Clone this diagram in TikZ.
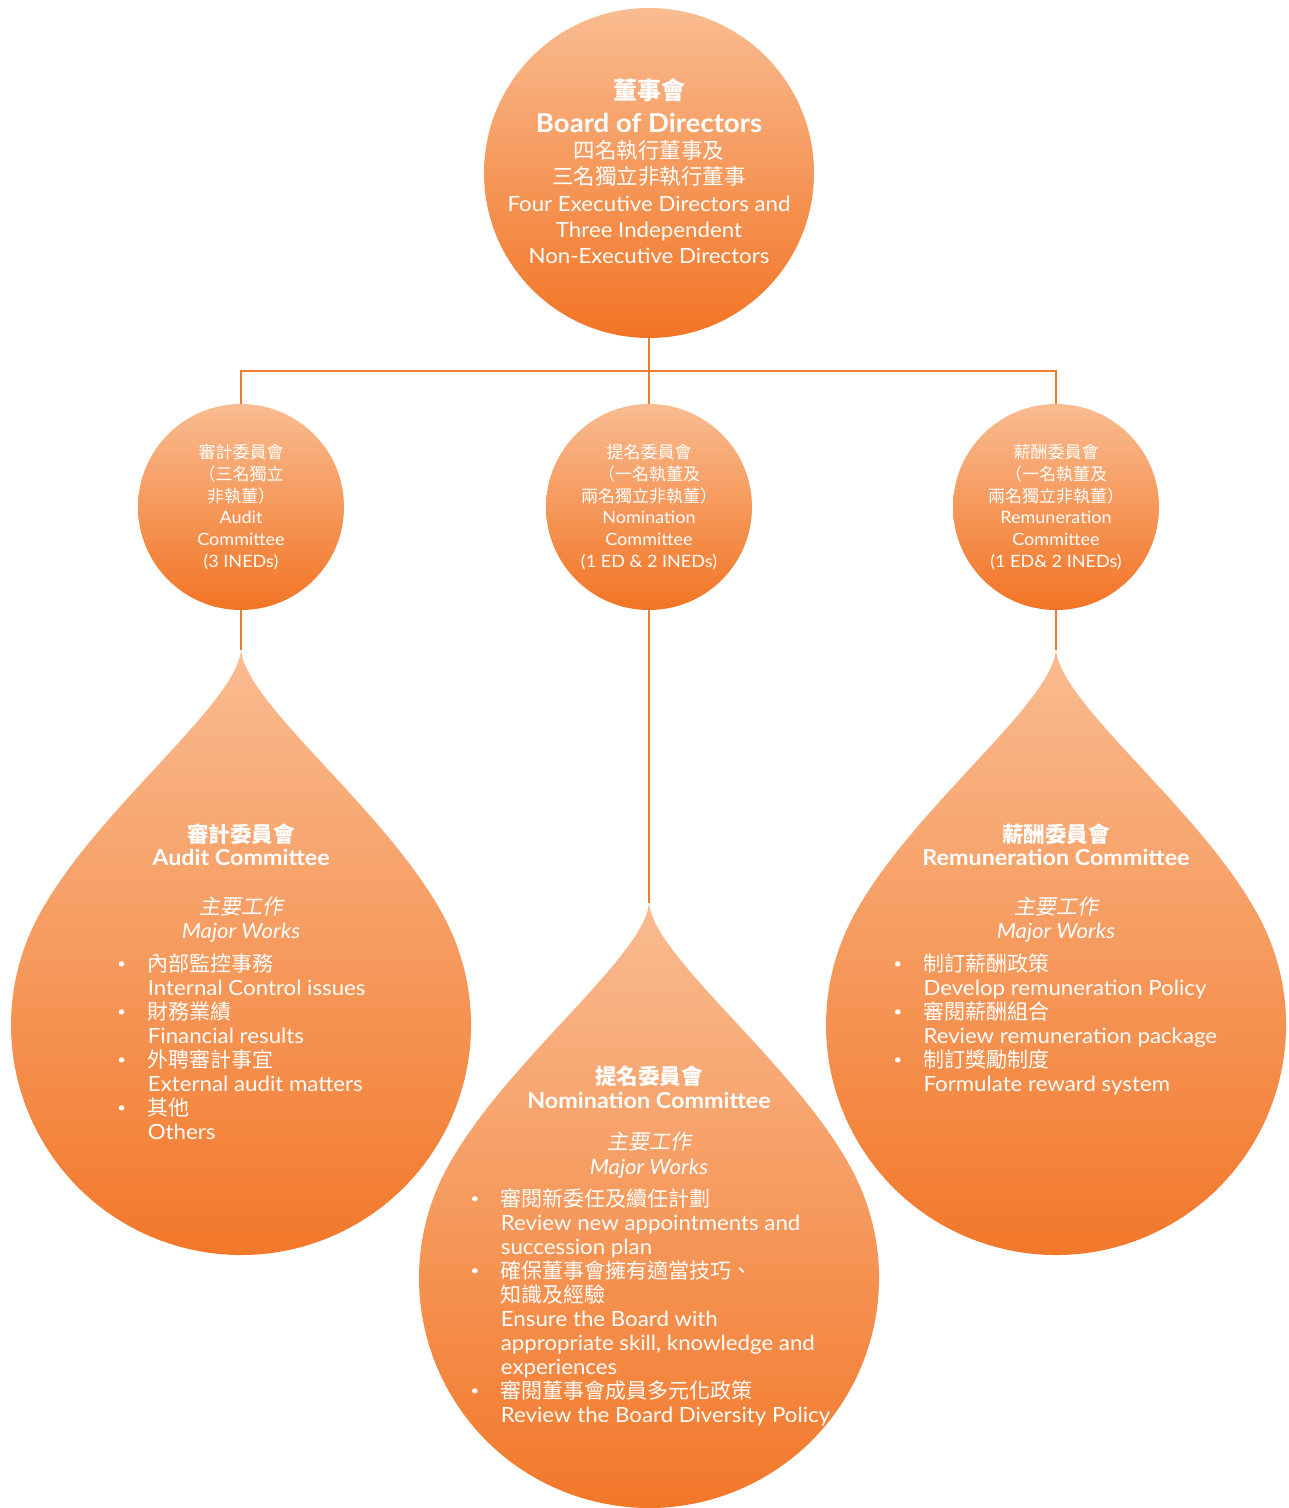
\documentclass[tikz,border=0pt]{standalone}
\usepackage{fontspec}
\setmainfont{Lato}[FakeStretch=1.06]
\newfontfamily\cjk{Noto Sans CJK TC}
\newfontfamily\cjkit{Noto Sans CJK TC}[FakeSlant=0.18]
\definecolor{otop}{HTML}{F9BC91}
\definecolor{obot}{HTML}{F27424}
\definecolor{oline}{HTML}{F07A2E}
\newcommand\dropat[2]{\begin{scope}[shift={(#1,#2)}]
\shade[top color=otop,bottom color=obot] (0,375) .. controls (5,320) and (146.8,214) .. (203.1,108) arc[start angle=28, end angle=-208, radius=230pt] .. controls (-146.8,214) and (-5,320) .. cycle;
\end{scope}}
\begin{document}
\begin{tikzpicture}[x=1pt,y=1pt,
  orb/.style={circle, inner sep=0pt, top color=otop, bottom color=obot, draw=none},
  link/.style={draw=oline, line width=2pt},
  t/.style={text=white, inner sep=0pt, anchor=base},
  tl/.style={text=white, inner sep=0pt, anchor=base west},
  zh/.style={font=\cjk\fontsize{#1}{#1}\selectfont},
  zhb/.style={font=\cjk\bfseries\fontsize{#1}{#1}\selectfont},
  zhi/.style={font=\cjkit\fontsize{#1}{#1}\selectfont},
  en/.style={font=\fontsize{#1}{#1}\selectfont},
  enb/.style={font=\bfseries\fontsize{#1}{#1}\selectfont},
  eni/.style={font=\itshape\fontsize{#1}{#1}\selectfont}]
\useasboundingbox (0,0) rectangle (1289,-1508);

% drops
\dropat{241}{-1025}
\dropat{1056}{-1025}
\dropat{649}{-1278}
\coordinate (tipa) at (241,-650);
\coordinate (tipb) at (649,-903);
\coordinate (tipc) at (1056,-650);

% circles
\node[orb, minimum size=330pt] (board) at (649,-173) {};
\node[orb, minimum size=206pt] (ca) at (241,-507) {};
\node[orb, minimum size=206pt] (cb) at (649,-507) {};
\node[orb, minimum size=206pt] (cc) at (1056,-507) {};

% connectors
\coordinate (hub) at (649,-371);
\draw[link] (board.south) -- (cb.north);
\draw[link] (ca.north) |- (hub) -| (cc.north);
\draw[link] (ca.south) -- (tipa);
\draw[link] (cb.south) -- (tipb);
\draw[link] (cc.south) -- (tipc);

% board text
\node[t, zhb=24] (b1) at (649,-99) {董事會};
\node[t, enb=26] (b2) at (649,-132) {Board of Directors};
\node[t, zh=21.5] (b3) at (649,-158.4) {四名執行董事及};
\node[t, zh=21.5] (b4) at (649,-184.7) {三名獨立非執行董事};
\node[t, en=21] (b5) at (649,-211) {Four Executive Directors and};
\node[t, en=21] (b6) at (649,-237.3) {Three Independent};
\node[t, en=21] (b7) at (649,-263.6) {Non-Executive Directors};

% small circle texts
\node[t, zh=17] (a1) at (241,-458) {審計委員會};
\node[t, zh=17] (a2) at (241,-480) {（三名獨立};
\node[t, zh=17] (a3) at (241,-502) {非執董）};
\node[t, en=17] (a4) at (241,-523.5) {Audit};
\node[t, en=17] (a5) at (241,-545) {Committee};
\node[t, en=17] (a6) at (241,-567) {(3 INEDs)};

\node[t, zh=17] (n1) at (649,-458) {提名委員會};
\node[t, zh=17] (n2) at (649,-480) {（一名執董及};
\node[t, zh=17] (n3) at (649,-502) {兩名獨立非執董）};
\node[t, en=17] (n4) at (649,-523.5) {Nomination};
\node[t, en=17] (n5) at (649,-545) {Committee};
\node[t, en=17] (n6) at (649,-567) {(1 ED \& 2 INEDs)};

\node[t, zh=17] (r1) at (1056,-458) {薪酬委員會};
\node[t, zh=17] (r2) at (1056,-480) {（一名執董及};
\node[t, zh=17] (r3) at (1056,-502) {兩名獨立非執董）};
\node[t, en=17] (r4) at (1056,-523.5) {Remuneration};
\node[t, en=17] (r5) at (1056,-545) {Committee};
\node[t, en=17] (r6) at (1056,-567) {(1 ED\& 2 INEDs)};

% audit drop
\node[t, zhb=21.5] (da1) at (241,-842) {審計委員會};
\node[t, enb=22] (da2) at (241,-865) {Audit Committee};
\node[t, zhi=21] (da3) at (241,-914) {主要工作};
\node[t, eni=21] (da4) at (241,-938.3) {Major Works};
\foreach \txt [count=\i from 0] in {{\cjk 內部監控事務}, Internal Control issues, {\cjk 財務業績}, Financial results, {\cjk 外聘審計事宜}, External audit matters, {\cjk 其他}, Others}
  \node[tl, en=21] (la\i) at (147.7,-971-24*\i) {\txt};
\foreach \k in {0,2,4,6}
  \node[t, en=14] (ba\k) at (121.7,-968.7-24*\k) {•};

% remuneration drop
\node[t, zhb=21.5] (dr1) at (1056,-842) {薪酬委員會};
\node[t, enb=22] (dr2) at (1056,-865) {Remuneration Committee};
\node[t, zhi=21] (dr3) at (1056,-914) {主要工作};
\node[t, eni=21] (dr4) at (1056,-938.3) {Major Works};
\foreach \txt [count=\i from 0] in {{\cjk 制訂薪酬政策}, Develop remuneration Policy, {\cjk 審閱薪酬組合}, Review remuneration package, {\cjk 制訂獎勵制度}, Formulate reward system}
  \node[tl, en=21] (lr\i) at (923.3,-971-24*\i) {\txt};
\foreach \k in {0,2,4}
  \node[t, en=14] (br\k) at (898,-968.7-24*\k) {•};

% nomination drop
\node[t, zhb=21.5] (dn1) at (649,-1084.5) {提名委員會};
\node[t, enb=22] (dn2) at (649,-1108.3) {Nomination Committee};
\node[t, zhi=21] (dn3) at (649,-1149) {主要工作};
\node[t, eni=21] (dn4) at (649,-1174.3) {Major Works};
\foreach \txt [count=\i from 0] in {{\cjk 審閱新委任及續任計劃}, Review new appointments and, succession plan, {\cjk 確保董事會擁有適當技巧、}, {\cjk 知識及經驗}, Ensure the Board with, {appropriate skill, knowledge and}, experiences, {\cjk 審閱董事會成員多元化政策}, Review the Board Diversity Policy}
  \node[tl, en=21] (ln\i) at (500.7,-1206-24*\i) {\txt};
\foreach \k in {0,3,8}
  \node[t, en=14] (bn\k) at (475,-1203.7-24*\k) {•};
\end{tikzpicture}
\end{document}
